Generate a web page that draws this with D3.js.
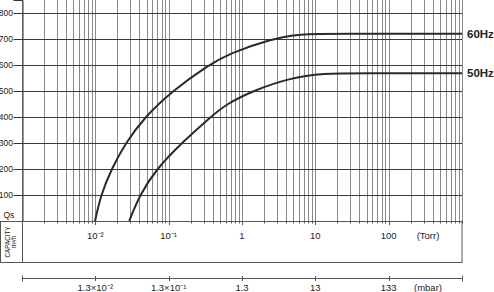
<!DOCTYPE html>
<html>
<head>
<meta charset="utf-8">
<script src="https://cdn.jsdelivr.net/npm/d3@7"></script>
<style>
  body { margin: 0; background: #fff; }
  svg { display: block; font-family: "Liberation Sans", Arial, sans-serif; }
</style>
</head>
<body>
<svg id="chart" width="494" height="292"></svg>
<script>
// pressure in Torr, capacity in m3/h
let torr60 = [0.0099, 0.01188, 0.0166, 0.0258, 0.0472, 0.1117, 0.35, 0.676, 2.52, 6.05, 20, 1000]
let cap60 = [0, 100, 200, 300, 400, 500, 600, 645, 700, 720, 720, 720]
let torr50 = [0.029, 0.0402, 0.068, 0.150, 0.372, 0.615, 1.39, 4.43, 13.2, 40, 1000]
let cap50 = [0, 100, 200, 300, 400, 450, 500, 550, 568, 568, 568]
let yTicks = [100, 200, 300, 400, 500, 600, 700, 800]
let torrTicks = [0.01, 0.1, 1, 10, 100]
let torrLabels = ["10\u207B\u00B2", "10\u207B\u00B9", "1", "10", "100"]
let mbarTicks = [0.01333, 0.1333, 1.333, 13.33, 133.3]
let mbarLabels = ["1.3\u00D710\u207B\u00B2", "1.3\u00D710\u207B\u00B9", "1.3", "13", "133"]
let seriesNames = ["60Hz", "50Hz"]

let svg = d3.select("#chart")
let pL = 22, pR = 462, pT = 0, pB = 221
let narrow = "'Liberation Sans Narrow', 'Liberation Sans', Arial, sans-serif"

let x = d3.scaleLog().domain([1e-3, 1e3]).range([pL, pR])
let y = d3.scaleLinear().domain([0, 850]).range([pB, pT])
let xm = d3.scaleLog().domain([1.333e-3, 1333]).range([pL, pR])

// vertical grid: every 1..9 of each decade
let minor = []
for (let e = -3; e < 3; e++) for (let k = 1; k < 10; k++) minor.push(k * Math.pow(10, e))
minor.push(1000)

svg.append("g").selectAll("line").data(minor).join("line")
  .attr("x1", d => Math.round(x(d)) + 0.5).attr("x2", d => Math.round(x(d)) + 0.5)
  .attr("y1", pT).attr("y2", pB)
  .attr("stroke", "#8a8a8a").attr("stroke-width", 1)

svg.append("g").selectAll("line").data(yTicks).join("line")
  .attr("x1", pL).attr("x2", pR)
  .attr("y1", d => Math.round(y(d)) + 0.5).attr("y2", d => Math.round(y(d)) + 0.5)
  .attr("stroke", "#3a3a3a").attr("stroke-width", 1.2)

// y axis
let yAxis = svg.append("g").attr("transform", "translate(" + (pL + 0.5) + ",0)")
  .call(d3.axisLeft(y).tickValues(yTicks).tickSize(9).tickPadding(0.5))
yAxis.select(".domain").attr("stroke", "#333")
yAxis.selectAll(".tick line").attr("stroke", "#333")
yAxis.selectAll("text").attr("font-size", 8.5).attr("font-family", narrow).attr("fill", "#222")

svg.append("text").attr("x", 3.5).attr("y", 218).attr("font-size", 8.5).attr("font-family", narrow)
  .attr("fill", "#222").text("Qs")

// bottom line of plot + Torr box
svg.append("line").attr("x1", 0).attr("x2", pR).attr("y1", pB + 0.5).attr("y2", pB + 0.5)
  .attr("stroke", "#333").attr("stroke-width", 1.2)
svg.append("rect").attr("x", 0.5).attr("y", pB + 0.5).attr("width", pR - 0.5).attr("height", 41)
  .attr("fill", "none").attr("stroke", "#555").attr("stroke-width", 1)
svg.append("line").attr("x1", pL + 0.5).attr("x2", pL + 0.5).attr("y1", pB).attr("y2", pB + 41)
  .attr("stroke", "#555")

// small ticks under the plot
svg.append("g").selectAll("line").data(minor).join("line")
  .attr("x1", d => Math.round(x(d)) + 0.5).attr("x2", d => Math.round(x(d)) + 0.5)
  .attr("y1", pB).attr("y2", d => torrTicks.includes(d) ? pB + 4 : pB + 2.5)
  .attr("stroke", "#555")

svg.append("g").selectAll("text").data(torrTicks).join("text")
  .attr("x", d => x(d)).attr("y", 238.5).attr("text-anchor", "middle")
  .attr("font-size", 9.5).attr("fill", "#222")
  .text((d, i) => torrLabels[i])
svg.append("text").attr("x", 428).attr("y", 238.5).attr("text-anchor", "middle")
  .attr("font-size", 9.5).attr("fill", "#222").text("(Torr)")

let cap = svg.append("text").attr("transform", "translate(9.5,242) rotate(-90)")
  .attr("text-anchor", "middle").attr("font-size", 6.3).attr("fill", "#222")
cap.append("tspan").attr("x", 0).attr("dy", 0).text("CAPACITY")
cap.append("tspan").attr("x", 0).attr("dy", 6.5).text("m\u00B3/h")

// mbar axis
let mAxis = svg.append("g").attr("transform", "translate(0,278.5)")
mAxis.append("line").attr("x1", pL).attr("x2", pR).attr("stroke", "#555")
mAxis.selectAll(".t").data([pL, pR]).join("line").attr("class", "t")
  .attr("x1", d => d + 0.5).attr("x2", d => d + 0.5).attr("y1", -3).attr("y2", 3).attr("stroke", "#555")
mAxis.selectAll(".m").data(mbarTicks).join("line").attr("class", "m")
  .attr("x1", d => Math.round(xm(d)) + 0.5).attr("x2", d => Math.round(xm(d)) + 0.5)
  .attr("y1", -2.5).attr("y2", 2.5).attr("stroke", "#555")
mAxis.selectAll("text").data(mbarTicks).join("text")
  .attr("x", d => xm(d)).attr("y", 12).attr("text-anchor", "middle")
  .attr("font-size", 9.5).attr("fill", "#222")
  .text((d, i) => mbarLabels[i])
mAxis.append("text").attr("x", 428).attr("y", 12).attr("text-anchor", "middle")
  .attr("font-size", 9.5).attr("fill", "#222").text("(mbar)")

// curves
let line = d3.line().x(d => x(d[0])).y(d => y(d[1])).curve(d3.curveBasis)
let series = [d3.zip(torr60, cap60), d3.zip(torr50, cap50)]
svg.append("g").selectAll("path").data(series).join("path")
  .attr("d", line).attr("fill", "none").attr("stroke", "#2a2a2a").attr("stroke-width", 2)

svg.append("g").selectAll("text").data(series).join("text")
  .attr("x", 467).attr("y", d => y(d[d.length - 1][1]) + 4)
  .attr("font-size", 11.5).attr("font-weight", "bold").attr("fill", "#222")
  .text((d, i) => seriesNames[i])
</script>
</body>
</html>
